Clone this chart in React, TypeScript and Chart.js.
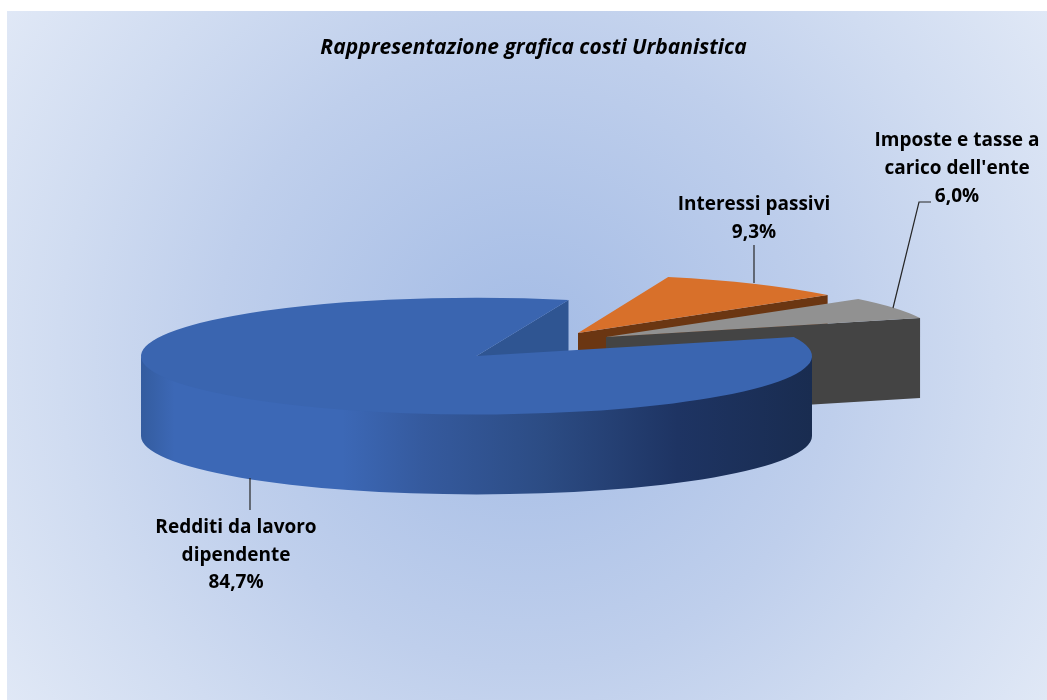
import React, { useEffect, useRef } from "react";
import { Chart, registerables } from "chart.js";

Chart.register(...registerables);

const categories = ["Redditi da lavoro dipendente", "Interessi passivi", "Imposte e tasse a carico dell'ente"];
const shares = [84.7, 9.3, 6.0];
const topColors = ["#3a65b0", "#d8702a", "#919191"];
const faceColors = ["#2f5592", "#6b3612", "#444444"];
const titleText = "Rappresentazione grafica costi Urbanistica";
const labelLines = [
  ["Redditi da lavoro", "dipendente", "84,7%"],
  ["Interessi passivi", "9,3%"],
  ["Imposte e tasse a", "carico dell'ente", "6,0%"],
];

const W = 1047;
const H = 700;
const RADIUS = 335.5;
const SQUASH = 0.174;
const DEPTH = 80;
const shifts = [
  { x: 0, y: 0, sx: 1 },
  { x: 101.5, y: -23, sx: 0.98 },
  { x: 129.5, y: -19, sx: 0.99 },
];
const labelPos = [
  { x: 236, y: [528, 556, 583] },
  { x: 754, y: [205, 233] },
  { x: 957, y: [141, 169, 197] },
];
const leaders = [
  [[250, 478], [250, 510]],
  [[754, 245], [754, 283]],
  [[893, 308], [919, 202], [931, 202]],
];
const LABEL_FONT = "bold 19px 'Open Sans', sans-serif";

function drawBackground(chart: any) {
  const ctx = chart.ctx;
  ctx.save();
  ctx.fillStyle = "#ffffff";
  ctx.fillRect(0, 0, W, H);
  const g = ctx.createRadialGradient(527, 355, 0, 527, 355, 625);
  g.addColorStop(0, "#a3bbe5");
  g.addColorStop(0.5, "#bfcfec");
  g.addColorStop(0.75, "#d0dcf1");
  g.addColorStop(1, "#e0e8f6");
  ctx.fillStyle = g;
  ctx.fillRect(7, 11, W - 7, H - 11);
  ctx.restore();
}

function pt(arc: any, i: number, angle: number) {
  const s = shifts[i];
  return {
    x: arc.x + s.x + Math.cos(angle) * RADIUS * s.sx,
    y: arc.y + s.y + Math.sin(angle) * RADIUS * SQUASH,
  };
}

function drawFace(ctx: any, arc: any, i: number, angle: number) {
  const s = shifts[i];
  const tip = { x: arc.x + s.x, y: arc.y + s.y };
  const rim = pt(arc, i, angle);
  ctx.fillStyle = faceColors[i];
  ctx.beginPath();
  ctx.moveTo(tip.x, tip.y);
  ctx.lineTo(rim.x, rim.y);
  ctx.lineTo(rim.x, rim.y + DEPTH);
  ctx.lineTo(tip.x, tip.y + DEPTH);
  ctx.closePath();
  ctx.fill();
}

function drawWall(ctx: any, arc: any, i: number) {
  // Only the part of the rim facing the viewer (canvas angles 0..PI)
  const TAU = Math.PI * 2;
  let a = arc.startAngle;
  let b = arc.endAngle;
  while (a > 0) { a -= TAU; b -= TAU; }
  const from = Math.max(a, 0);
  const to = Math.min(b, Math.PI);
  if (to <= from) return;
  const s = shifts[i];
  const cx = arc.x + s.x;
  const cy = arc.y + s.y;
  const g = ctx.createLinearGradient(cx - RADIUS, 0, cx + RADIUS, 0);
  g.addColorStop(0, "#345c9f");
  g.addColorStop(0.05, "#3c68b6");
  g.addColorStop(0.3, "#3c68b6");
  g.addColorStop(0.42, "#355a9e");
  g.addColorStop(0.6, "#2c4c84");
  g.addColorStop(0.8, "#1e3463");
  g.addColorStop(1, "#192c50");
  ctx.fillStyle = g;
  ctx.beginPath();
  // Upper edge runs slightly inside the top surface so no seam shows
  ctx.ellipse(cx, cy - 2, RADIUS * s.sx, RADIUS * SQUASH, 0, from, to, false);
  ctx.ellipse(cx, cy + DEPTH, RADIUS * s.sx, RADIUS * SQUASH, 0, to, from, true);
  ctx.closePath();
  ctx.fill();
}

function drawTop(ctx: any, arc: any, i: number) {
  const s = shifts[i];
  ctx.save();
  ctx.translate(arc.x + s.x, arc.y + s.y);
  ctx.scale(s.sx, SQUASH);
  ctx.translate(-arc.x, -arc.y);
  arc.draw(ctx);
  ctx.restore();
}

const pie3d = {
  id: "pie3d",
  afterLayout(chart: any) {
    chart.titleBlock.left += 57;
    chart.titleBlock.right += 57;
  },
  beforeDraw: drawBackground,
  beforeDatasetDraw() {
    return false;
  },
  afterDatasetsDraw(chart: any) {
    const ctx = chart.ctx;
    const arcs = chart.getDatasetMeta(0).data;
    [1, 2, 0].forEach((i) => {
      const arc = arcs[i];
      if (Math.cos(arc.endAngle) > 0) drawFace(ctx, arc, i, arc.endAngle);
      if (Math.cos(arc.startAngle) < 0) drawFace(ctx, arc, i, arc.startAngle);
      drawWall(ctx, arc, i);
      drawTop(ctx, arc, i);
    });
    ctx.save();
    ctx.strokeStyle = "#262626";
    ctx.lineWidth = 1.2;
    leaders.forEach((pts) => {
      ctx.beginPath();
      pts.forEach((p, k) => (k ? ctx.lineTo(p[0], p[1]) : ctx.moveTo(p[0], p[1])));
      ctx.stroke();
    });
    ctx.fillStyle = "#000000";
    ctx.font = LABEL_FONT;
    ctx.textAlign = "center";
    ctx.textBaseline = "middle";
    labelLines.forEach((lines, i) => {
      lines.forEach((t, k) => ctx.fillText(t, labelPos[i].x, labelPos[i].y[k]));
    });
    ctx.restore();
  },
};

export default function App() {
  const ref = useRef<HTMLCanvasElement>(null);
  useEffect(() => {
    document.body.style.margin = "0";
    const chart = new Chart(ref.current as HTMLCanvasElement, {
      type: "pie",
      data: {
        labels: categories,
        datasets: [{ data: shares, backgroundColor: topColors, borderWidth: 0 }],
      },
      options: {
        animation: false,
        responsive: false,
        rotation: 71,
        radius: RADIUS,
        layout: { padding: { left: 0, right: 94, top: 0, bottom: 48 } },
        plugins: {
          legend: { display: false },
          tooltip: { enabled: false },
          title: {
            display: true,
            text: titleText,
            color: "#000000",
            font: { family: "'Open Sans', sans-serif", size: 21, style: "italic", weight: "bold" },
            padding: { top: 35, bottom: 0 },
          },
        },
      },
      plugins: [pie3d],
    } as any);
    return () => chart.destroy();
  }, []);
  return <canvas ref={ref} width={W} height={H} style={{ display: "block" }} />;
}
